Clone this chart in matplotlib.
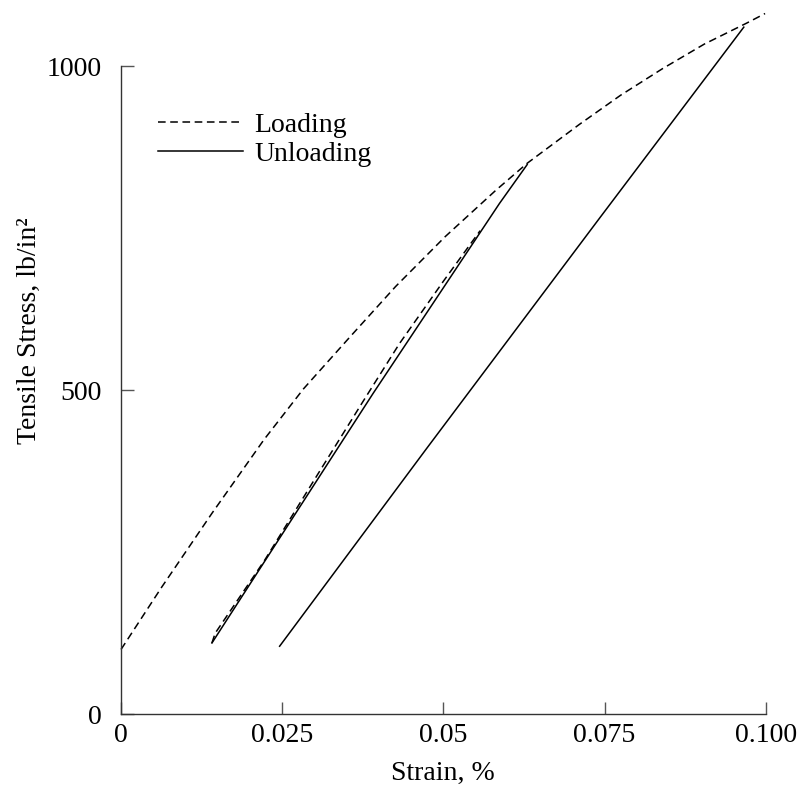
import matplotlib
matplotlib.use('Agg')
import matplotlib.pyplot as plt

plt.rcParams['font.family'] = ['Liberation Serif', 'DejaVu Serif']

# loading envelope (dashed)
load_strain = [0.0, 0.0063, 0.0141, 0.0222, 0.0283, 0.0355, 0.0426, 0.0503, 0.0581,
               0.0630, 0.0711, 0.0775, 0.0840, 0.0905, 0.0970, 0.0999]
load_stress = [100, 196, 310, 424, 502, 582, 660, 737, 808,
               850, 910, 955, 996, 1034, 1066, 1081]

# first unloading and reloading
unload1_strain = [0.0630, 0.0587, 0.0391, 0.0141]
unload1_stress = [848, 788, 495, 110]
reload1_strain = [0.0141, 0.0146, 0.0223, 0.0300, 0.0375, 0.0432, 0.0500, 0.0557]
reload1_stress = [110, 125, 238, 362, 482, 572, 668, 746]

# second unloading
unload2_strain = [0.0966, 0.0742, 0.0474, 0.0246]
unload2_stress = [1060, 765, 410, 105]

x_ticks = [0, 0.025, 0.05, 0.075, 0.1]
x_tick_labels = ['0', '0.025', '0.05', '0.075', '0.100']
y_ticks = [0, 500, 1000]
y_tick_labels = ['0', '500', '1000']

fig = plt.figure(figsize=(8.09, 7.89), dpi=100)
ax = fig.add_axes([0.1496, 0.0947, 0.7969, 0.8216])

dash = (0, (5, 3))
ax.plot(load_strain, load_stress, color='black', lw=1.1, linestyle=dash, clip_on=False, label='Loading')
ax.plot(unload1_strain, unload1_stress, color='black', lw=1.1, clip_on=False, label='Unloading')
ax.plot(reload1_strain, reload1_stress, color='black', lw=1.1, linestyle=dash, clip_on=False)
ax.plot(unload2_strain, unload2_stress, color='black', lw=1.1, clip_on=False)

ax.set_xlim(0, 0.1)
ax.set_ylim(0, 1000)
ax.spines['top'].set_visible(False)
ax.spines['right'].set_visible(False)
for s in ['left', 'bottom']:
    ax.spines[s].set_color('#333333')
    ax.spines[s].set_linewidth(1.0)

ax.set_xticks(x_ticks)
ax.set_xticklabels(x_tick_labels)
ax.set_yticks(y_ticks)
ax.set_yticklabels(y_tick_labels)
ax.tick_params(axis='both', direction='in', length=9, width=1.0, color='#555555', labelsize=20)
ax.tick_params(axis='x', pad=6)
ax.tick_params(axis='y', pad=14)

ax.set_xlabel('Strain, %', fontsize=20)
ax.xaxis.set_label_coords(0.5, -0.072)
ax.set_ylabel('Tensile Stress, lb/in²', fontsize=20)
ax.yaxis.set_label_coords(-0.123, 0.5925)

ax.legend(loc='upper left', bbox_to_anchor=(0.0574, 0.928), frameon=False, fontsize=20,
          handlelength=3.05, handletextpad=0.42, labelspacing=0.12,
          borderpad=0, borderaxespad=0)

fig.savefig('out.png', dpi=100)
